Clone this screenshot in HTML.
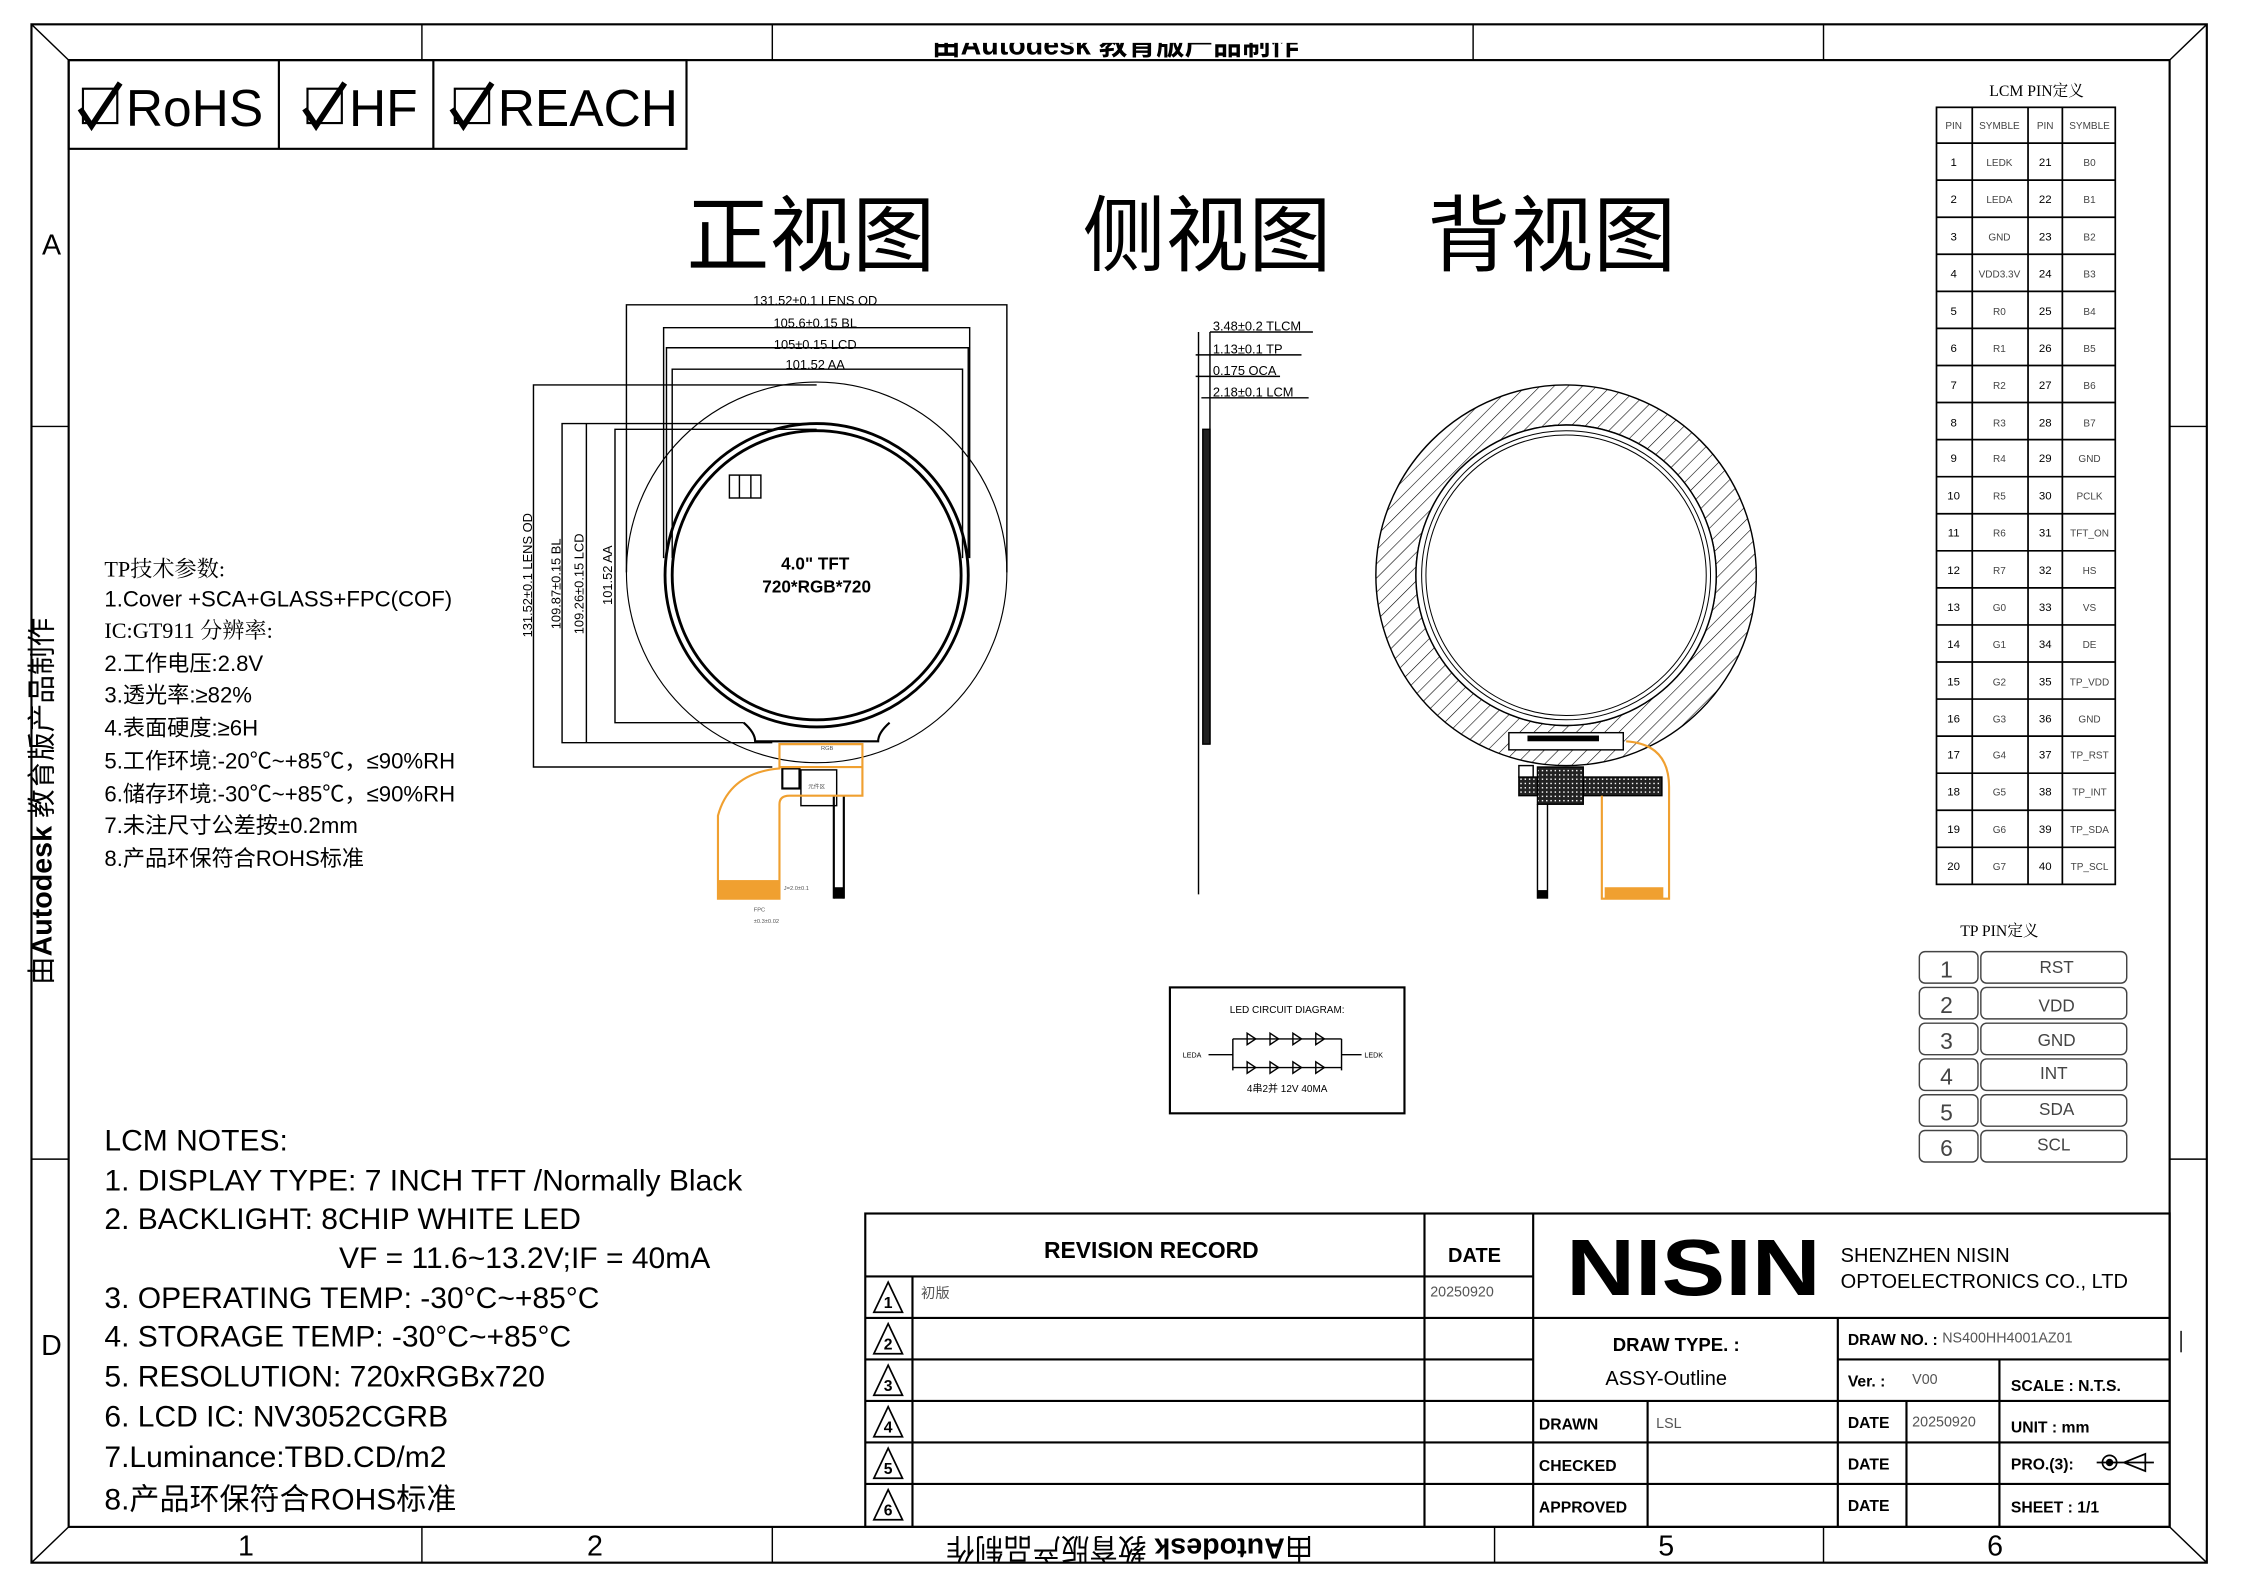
<!DOCTYPE html>
<html><head><meta charset="utf-8"><style>
html,body{margin:0;padding:0;background:#fff;}
svg{display:block;}
text{font-family:"Liberation Sans","Noto Sans CJK SC",sans-serif;}
.s{font-family:"Liberation Serif","Noto Serif CJK SC",serif;}
.cj{font-family:"Liberation Serif","Noto Serif CJK SC",serif;}
</style></head><body>
<svg width="2244" height="1587" viewBox="0 0 1569 1109" preserveAspectRatio="none" xmlns="http://www.w3.org/2000/svg">
<defs>
<pattern id="h" width="7" height="7" patternUnits="userSpaceOnUse" patternTransform="rotate(45)"><line x1="0" y1="0" x2="0" y2="7" stroke="#000" stroke-width="0.8"/></pattern>
<pattern id="x" width="3" height="3" patternUnits="userSpaceOnUse"><rect width="3" height="3" fill="#222"/><rect x="1" y="1" width="1" height="1" fill="#fff"/></pattern>
<clipPath id="tc"><rect x="540" y="30" width="490" height="12"/></clipPath>
</defs>
<rect width="1569" height="1109" fill="#fff"/>
<!-- frames -->
<g fill="none" stroke="#000">
<rect x="22" y="17" width="1521" height="1075" stroke-width="1.5"/>
<rect x="48" y="42" width="1469" height="1025" stroke-width="1.5"/>
<line x1="22" y1="17" x2="48" y2="42"/><line x1="1543" y1="17" x2="1517" y2="42"/>
<line x1="22" y1="1092" x2="48" y2="1067"/><line x1="1543" y1="1092" x2="1517" y2="1067"/>
<line x1="295" y1="17" x2="295" y2="42"/><line x1="540" y1="17" x2="540" y2="42"/><line x1="1030" y1="17" x2="1030" y2="42"/><line x1="1275" y1="17" x2="1275" y2="42"/>
<line x1="295" y1="1067" x2="295" y2="1092"/><line x1="540" y1="1067" x2="540" y2="1092"/><line x1="1045" y1="1067" x2="1045" y2="1092"/><line x1="1275" y1="1067" x2="1275" y2="1092"/>
<line x1="22" y1="298" x2="48" y2="298"/><line x1="22" y1="810" x2="48" y2="810"/>
<line x1="1517" y1="298" x2="1543" y2="298"/><line x1="1517" y1="810" x2="1543" y2="810"/>
</g>
<g font-size="20" text-anchor="middle">
<text x="172" y="1087">1</text><text x="416" y="1087">2</text><text x="1165" y="1087">5</text><text x="1395" y="1087">6</text>
<text x="36" y="178">A</text><text x="36" y="947">D</text>
</g>
<text transform="translate(790,1075) rotate(180)" font-size="20" text-anchor="middle" font-weight="bold"><tspan font-weight="normal">由</tspan>Autodesk<tspan font-weight="normal"> 教育版产品制作</tspan></text>
<text transform="translate(36,560) rotate(-90)" font-size="20" text-anchor="middle"><tspan>由</tspan><tspan font-weight="bold">Autodesk</tspan><tspan> 教育版产品制作</tspan></text>
<text x="780" y="38" font-size="20" text-anchor="middle" font-weight="bold" clip-path="url(#tc)">由Autodesk 教育版产品制作</text>

<!-- compliance box -->
<g fill="none" stroke="#000" stroke-width="1.5">
<rect x="48" y="42" width="432" height="62"/><line x1="195" y1="42" x2="195" y2="104"/><line x1="303" y1="42" x2="303" y2="104"/>
<rect x="58" y="62" width="24" height="24"/><rect x="215" y="62" width="24" height="24"/><rect x="318" y="62" width="24" height="24"/>
<path d="M56 76 L64 88 L84 58" stroke-width="4"/><path d="M213 76 L221 88 L241 58" stroke-width="4"/><path d="M316 76 L324 88 L344 58" stroke-width="4"/>
</g>
<g font-size="36"><text x="88" y="88">RoHS</text><text x="244" y="88">HF</text><text x="348" y="88">REACH</text></g>

<!-- titles -->
<g class="cj" font-size="58"><text x="480" y="185">正视图</text><text x="757" y="185">侧视图</text><text x="998" y="185">背视图</text></g>

<!-- front view -->
<g fill="none" stroke="#000" stroke-width="1">
<path d="M438 400 V213 H704 V400"/>
<path d="M464 390 V229 H678 V390"/>
<path d="M466 390 V243 H677 V390"/>
<path d="M470 390 V258 H673 V390"/>
<path d="M571 269 H373 V536 H540"/>
<path d="M571 296 H393 V519 H540"/>
<path d="M410 296 V519"/>
<path d="M571 300 H430 V505 H520"/>
<circle cx="571" cy="400" r="133" stroke-width="0.8"/>
<circle cx="571" cy="402" r="106" stroke-width="2"/>
<circle cx="571" cy="402" r="101" stroke-width="2"/>
<path d="M520 505 Q528 512 528 518 H614 Q614 512 622 505" stroke-width="1.5"/>
<rect x="510" y="332" width="22" height="16"/><line x1="517" y1="332" x2="517" y2="348"/><line x1="525" y1="332" x2="525" y2="348"/>
<rect x="547" y="537" width="12" height="14" stroke-width="1.5"/>
<rect x="560" y="538" width="25" height="25"/>
<line x1="583" y1="556" x2="583" y2="628" stroke-width="1.5"/><line x1="590" y1="556" x2="590" y2="628" stroke-width="1.5"/>
</g>
<rect x="583" y="620" width="7" height="8" fill="#000"/>
<g fill="none" stroke="#f0a030" stroke-width="1.5">
<path d="M545 520 V537 Q510 540 502 570 V628 H545 V562 Q545 556 552 556 H603 V520 Z"/>
<line x1="545" y1="536" x2="603" y2="536"/>
</g>
<rect x="502" y="615" width="43" height="13" fill="#f0a030"/>
<g font-size="4" fill="#555" class="s"><text x="565" y="551">元件区</text><text x="548" y="622">J=2.0±0.1</text><text x="527" y="637">FPC</text><text x="527" y="645">±0.3±0.02</text><text x="574" y="524">RGB</text></g>
<text x="570" y="398" font-size="12" font-weight="bold" text-anchor="middle">4.0"  TFT</text>
<text x="571" y="414" font-size="12" font-weight="bold" text-anchor="middle">720*RGB*720</text>
<g class="s" font-size="9" text-anchor="middle">
<text x="570" y="213">131.52±0.1 LENS OD</text>
<text x="570" y="229">105.6±0.15 BL</text>
<text x="570" y="244">105±0.15 LCD</text>
<text x="570" y="258">101.52 AA</text>
<text transform="translate(372,402) rotate(-90)">131.52±0.1 LENS OD</text>
<text transform="translate(392,408) rotate(-90)">109.87±0.15 BL</text>
<text transform="translate(408,408) rotate(-90)">109.26±0.15 LCD</text>
<text transform="translate(428,402) rotate(-90)">101.52 AA</text>
</g>

<!-- side view -->
<g fill="none" stroke="#000">
<line x1="838" y1="232" x2="838" y2="625"/>
<line x1="846" y1="232" x2="846" y2="520"/>
<rect x="841" y="300" width="5" height="220" fill="#222"/>
<line x1="846" y1="232" x2="918" y2="232"/><line x1="836" y1="248" x2="910" y2="248"/>
<line x1="836" y1="263" x2="895" y2="263"/><line x1="840" y1="278" x2="915" y2="278"/>
</g>
<g class="s" font-size="9"><text x="848" y="231">3.48±0.2 TLCM</text><text x="848" y="247">1.13±0.1 TP</text><text x="848" y="262">0.175 OCA</text><text x="848" y="277">2.18±0.1 LCM</text></g>

<!-- back view -->
<path d="M962 402 a133 133 0 1 0 266 0 a133 133 0 1 0 -266 0 Z M990 402 a105 105 0 1 0 210 0 a105 105 0 1 0 -210 0 Z" fill="url(#h)" fill-rule="evenodd" stroke="#000" stroke-width="1"/>
<circle cx="1095" cy="402" r="105" fill="#fff" stroke="#000"/>
<circle cx="1095" cy="402" r="101" fill="none" stroke="#000" stroke-width="0.7"/>
<circle cx="1095" cy="402" r="98" fill="none" stroke="#000" stroke-width="0.7"/>
<rect x="1055" y="512" width="80" height="12" fill="#fff" stroke="#000"/>
<rect x="1068" y="514" width="50" height="4" fill="#000"/>
<rect x="1062" y="543" width="100" height="13" fill="url(#x)" stroke="#000"/>
<rect x="1075" y="536" width="32" height="26" fill="url(#x)" stroke="#000"/>
<rect x="1062" y="535" width="10" height="8" fill="#fff" stroke="#000"/>
<line x1="1075" y1="562" x2="1075" y2="628" stroke="#000"/><line x1="1082" y1="562" x2="1082" y2="628" stroke="#000"/>
<rect x="1075" y="622" width="7" height="6" fill="#000"/>
<path d="M1120 556 V628 H1167 V550 Q1167 520 1137 518" fill="none" stroke="#f0a030" stroke-width="1.5"/>
<rect x="1122" y="620" width="41" height="8" fill="#f0a030"/>

<!-- LED circuit -->
<rect x="818" y="690" width="164" height="88" fill="none" stroke="#000" stroke-width="1.5"/>
<g class="s" font-size="7" text-anchor="middle"><text x="900" y="708">LED CIRCUIT DIAGRAM:</text><text x="900" y="763">4串2并  12V  40MA</text></g>
<g class="s" font-size="5"><text x="827" y="739">LEDA</text><text x="954" y="739">LEDK</text></g>
<g fill="none" stroke="#000" stroke-width="1">
<path d="M845 737 H862 M862 726 V748 M862 726 H938 M862 746 H938 M938 726 V748 M938 737 H952"/>
<path d="M872 722 l6 4 l-6 4 Z M888 722 l6 4 l-6 4 Z M904 722 l6 4 l-6 4 Z M920 722 l6 4 l-6 4 Z"/>
<path d="M872 742 l6 4 l-6 4 Z M888 742 l6 4 l-6 4 Z M904 742 l6 4 l-6 4 Z M920 742 l6 4 l-6 4 Z"/>
</g>

<!-- LCM PIN table -->
<text x="1424" y="67" class="s" font-size="11" text-anchor="middle">LCM PIN定义</text>
<g fill="none" stroke="#000" stroke-width="1.2">
<rect x="1354" y="75" width="125" height="543"/>
<line x1="1379" y1="75" x2="1379" y2="618"/><line x1="1418" y1="75" x2="1418" y2="618"/><line x1="1442" y1="75" x2="1442" y2="618"/>
<path d="M1354 100H1479 M1354 125.9H1479 M1354 151.8H1479 M1354 177.7H1479 M1354 203.6H1479 M1354 229.5H1479 M1354 255.4H1479 M1354 281.3H1479 M1354 307.2H1479 M1354 333.1H1479 M1354 359H1479 M1354 384.9H1479 M1354 410.8H1479 M1354 436.7H1479 M1354 462.6H1479 M1354 488.5H1479 M1354 514.4H1479 M1354 540.3H1479 M1354 566.2H1479 M1354 592.1H1479"/>
</g>
<g class="s" font-size="7" fill="#444" text-anchor="middle">
<text x="1366" y="90">PIN</text><text x="1398" y="90">SYMBLE</text><text x="1430" y="90">PIN</text><text x="1461" y="90">SYMBLE</text>
<text x="1398" y="116">LEDK</text><text x="1398" y="142">LEDA</text><text x="1398" y="168">GND</text><text x="1398" y="194">VDD3.3V</text><text x="1398" y="220">R0</text><text x="1398" y="246">R1</text><text x="1398" y="272">R2</text><text x="1398" y="298">R3</text><text x="1398" y="323">R4</text><text x="1398" y="349">R5</text><text x="1398" y="375">R6</text><text x="1398" y="401">R7</text><text x="1398" y="427">G0</text><text x="1398" y="453">G1</text><text x="1398" y="479">G2</text><text x="1398" y="505">G3</text><text x="1398" y="530">G4</text><text x="1398" y="556">G5</text><text x="1398" y="582">G6</text><text x="1398" y="608">G7</text>
<text x="1461" y="116">B0</text><text x="1461" y="142">B1</text><text x="1461" y="168">B2</text><text x="1461" y="194">B3</text><text x="1461" y="220">B4</text><text x="1461" y="246">B5</text><text x="1461" y="272">B6</text><text x="1461" y="298">B7</text><text x="1461" y="323">GND</text><text x="1461" y="349">PCLK</text><text x="1461" y="375">TFT_ON</text><text x="1461" y="401">HS</text><text x="1461" y="427">VS</text><text x="1461" y="453">DE</text><text x="1461" y="479">TP_VDD</text><text x="1461" y="505">GND</text><text x="1461" y="530">TP_RST</text><text x="1461" y="556">TP_INT</text><text x="1461" y="582">TP_SDA</text><text x="1461" y="608">TP_SCL</text>
</g>
<g font-size="8" text-anchor="middle">
<text x="1366" y="116">1</text><text x="1366" y="142">2</text><text x="1366" y="168">3</text><text x="1366" y="194">4</text><text x="1366" y="220">5</text><text x="1366" y="246">6</text><text x="1366" y="272">7</text><text x="1366" y="298">8</text><text x="1366" y="323">9</text><text x="1366" y="349">10</text><text x="1366" y="375">11</text><text x="1366" y="401">12</text><text x="1366" y="427">13</text><text x="1366" y="453">14</text><text x="1366" y="479">15</text><text x="1366" y="505">16</text><text x="1366" y="530">17</text><text x="1366" y="556">18</text><text x="1366" y="582">19</text><text x="1366" y="608">20</text>
<text x="1430" y="116">21</text><text x="1430" y="142">22</text><text x="1430" y="168">23</text><text x="1430" y="194">24</text><text x="1430" y="220">25</text><text x="1430" y="246">26</text><text x="1430" y="272">27</text><text x="1430" y="298">28</text><text x="1430" y="323">29</text><text x="1430" y="349">30</text><text x="1430" y="375">31</text><text x="1430" y="401">32</text><text x="1430" y="427">33</text><text x="1430" y="453">34</text><text x="1430" y="479">35</text><text x="1430" y="505">36</text><text x="1430" y="530">37</text><text x="1430" y="556">38</text><text x="1430" y="582">39</text><text x="1430" y="608">40</text>
</g>

<!-- TP PIN -->
<text x="1398" y="654" class="s" font-size="11" text-anchor="middle">TP PIN定义</text>
<g fill="none" stroke="#444" stroke-width="1">
<rect x="1342" y="665" width="41" height="22" rx="4"/><rect x="1385" y="665" width="102" height="22" rx="4"/>
<rect x="1342" y="690" width="41" height="22" rx="4"/><rect x="1385" y="690" width="102" height="22" rx="4"/>
<rect x="1342" y="715" width="41" height="22" rx="4"/><rect x="1385" y="715" width="102" height="22" rx="4"/>
<rect x="1342" y="740" width="41" height="22" rx="4"/><rect x="1385" y="740" width="102" height="22" rx="4"/>
<rect x="1342" y="765" width="41" height="22" rx="4"/><rect x="1385" y="765" width="102" height="22" rx="4"/>
<rect x="1342" y="790" width="41" height="22" rx="4"/><rect x="1385" y="790" width="102" height="22" rx="4"/>
</g>
<g font-size="16" fill="#444" text-anchor="middle"><text x="1361" y="683">1</text><text x="1361" y="708">2</text><text x="1361" y="733">3</text><text x="1361" y="758">4</text><text x="1361" y="783">5</text><text x="1361" y="808">6</text></g>
<g font-size="12" fill="#444" text-anchor="middle"><text x="1438" y="680">RST</text><text x="1438" y="707">VDD</text><text x="1438" y="731">GND</text><text x="1436" y="754">INT</text><text x="1438" y="779">SDA</text><text x="1436" y="804">SCL</text></g>

<!-- left texts -->
<g font-size="15.5">
<text x="73" y="403" class="cj">TP技术参数:</text>
<text x="73" y="424">1.Cover +SCA+GLASS+FPC(COF)</text>
<text x="73" y="446" class="cj">IC:GT911   分辨率:</text>
<text x="73" y="469">2.工作电压:2.8V</text>
<text x="73" y="491">3.透光率:≥82%</text>
<text x="73" y="514">4.表面硬度:≥6H</text>
<text x="73" y="537">5.工作环境:-20℃~+85℃，≤90%RH</text>
<text x="73" y="560">6.储存环境:-30℃~+85℃，≤90%RH</text>
<text x="73" y="582">7.未注尺寸公差按±0.2mm</text>
<text x="73" y="605">8.产品环保符合ROHS标准</text>
</g>
<g font-size="21">
<text x="73" y="804">LCM NOTES:</text>
<text x="73" y="832">1. DISPLAY TYPE: 7 INCH TFT /Normally Black</text>
<text x="73" y="859">2. BACKLIGHT: 8CHIP WHITE LED</text>
<text x="237" y="886">VF = 11.6~13.2V;IF = 40mA</text>
<text x="73" y="914">3. OPERATING TEMP: -30°C~+85°C</text>
<text x="73" y="941">4. STORAGE TEMP: -30°C~+85°C</text>
<text x="73" y="969">5. RESOLUTION: 720xRGBx720</text>
<text x="73" y="997">6. LCD IC: NV3052CGRB</text>
<text x="73" y="1025">7.Luminance:TBD.CD/m2</text>
<text x="73" y="1055">8.产品环保符合ROHS标准</text>
</g>

<!-- title block -->
<g fill="none" stroke="#000" stroke-width="1.5">
<rect x="605" y="848" width="912" height="219"/>
<line x1="605" y1="892" x2="1072" y2="892"/>
<path d="M605 921H1517 M605 950H1072 M1285 950H1517 M605 979H1517 M605 1008H1517 M605 1037H1517"/>
<line x1="638" y1="892" x2="638" y2="1067"/>
<line x1="996" y1="848" x2="996" y2="1067"/>
<line x1="1072" y1="848" x2="1072" y2="1067"/>
<line x1="1285" y1="921" x2="1285" y2="1067"/>
<line x1="1152" y1="979" x2="1152" y2="1067"/>
<line x1="1333" y1="979" x2="1333" y2="1067"/>
<line x1="1398" y1="950" x2="1398" y2="1067"/>
</g>
<g fill="none" stroke="#000" stroke-width="1.2">
<path d="M621 896 L611 917 H631 Z"/><path d="M621 925 L611 946 H631 Z"/><path d="M621 954 L611 975 H631 Z"/><path d="M621 983 L611 1004 H631 Z"/><path d="M621 1012 L611 1033 H631 Z"/><path d="M621 1041 L611 1062 H631 Z"/>
</g>
<g font-size="11" font-weight="bold" text-anchor="middle"><text x="621" y="914">1</text><text x="621" y="943">2</text><text x="621" y="972">3</text><text x="621" y="1001">4</text><text x="621" y="1030">5</text><text x="621" y="1059">6</text></g>
<g class="s" font-weight="bold">
<text x="805" y="879" font-size="16" text-anchor="middle">REVISION  RECORD</text>
<text x="1031" y="882" font-size="14" text-anchor="middle">DATE</text>
<text x="1172" y="944" font-size="13" text-anchor="middle">DRAW TYPE. :</text>
<text x="1292" y="940" font-size="11">DRAW NO. :</text>
<text x="1292" y="969" font-size="11">Ver. :</text>
<text x="1406" y="972" font-size="11">SCALE : N.T.S.</text>
<text x="1076" y="999" font-size="11">DRAWN</text>
<text x="1292" y="998" font-size="11">DATE</text>
<text x="1406" y="1001" font-size="11">UNIT : mm</text>
<text x="1076" y="1028" font-size="11">CHECKED</text>
<text x="1292" y="1027" font-size="11">DATE</text>
<text x="1406" y="1027" font-size="11">PRO.(3):</text>
<text x="1076" y="1057" font-size="11">APPROVED</text>
<text x="1292" y="1056" font-size="11">DATE</text>
<text x="1406" y="1057" font-size="11">SHEET :   1/1</text>
</g>
<g class="s" font-size="10" fill="#555">
<text x="644" y="907">初版</text><text x="1000" y="906">20250920</text>
<text x="1358" y="938">NS400HH4001AZ01</text><text x="1337" y="967">V00</text>
<text x="1158" y="998">LSL</text><text x="1337" y="997">20250920</text>
</g>
<text x="1165" y="968" font-size="14" text-anchor="middle">ASSY-Outline</text>
<text x="1095" y="905" font-size="56" font-weight="bold" textLength="178" lengthAdjust="spacingAndGlyphs">NISIN</text>
<text x="1287" y="882" font-size="14">SHENZHEN NISIN</text>
<text x="1287" y="900" font-size="14">OPTOELECTRONICS CO., LTD</text>
<g fill="none" stroke="#000" stroke-width="1.2">
<circle cx="1475" cy="1022" r="5"/><circle cx="1475" cy="1022" r="2" fill="#000"/>
<path d="M1466 1022H1506 M1485 1022 L1500 1016 V1028 Z"/>
</g>
<line x1="1525" y1="930" x2="1525" y2="945" stroke="#000"/>
</svg>
</body></html>
